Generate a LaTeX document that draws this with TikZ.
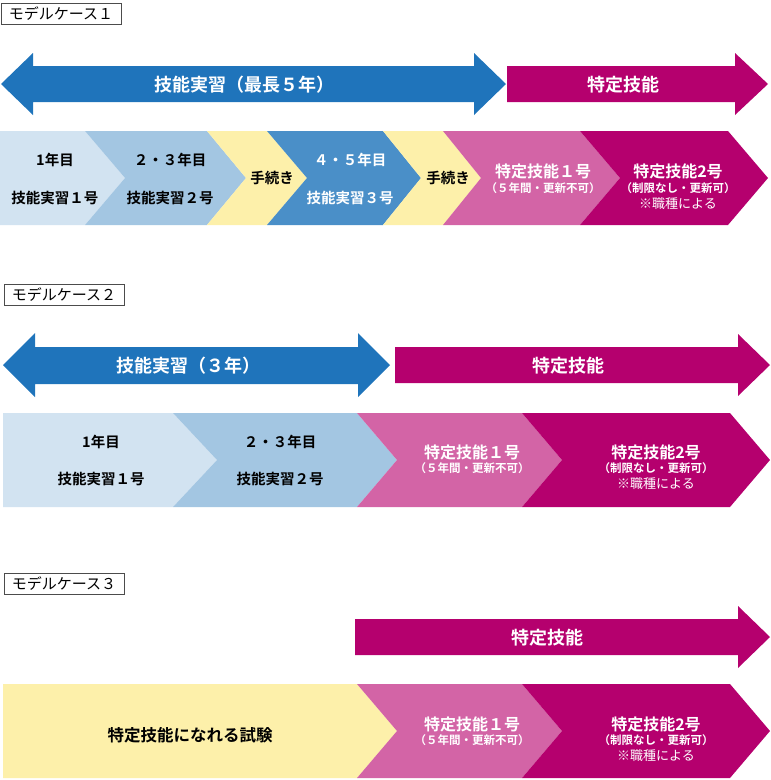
\documentclass[tikz,border=0pt]{standalone}
\usepackage{fontspec}
\setmainfont{Noto Sans CJK JP}[BoldFont={Noto Sans CJK JP Bold}]
\usepackage{tikz}
\usetikzlibrary{calc}
\definecolor{kblue}{RGB}{31,116,187}
\definecolor{kmag}{RGB}{181,0,110}
\definecolor{klight}{RGB}{210,227,241}
\definecolor{kmid}{RGB}{163,198,226}
\definecolor{kdeep}{RGB}{74,143,200}
\definecolor{kyel}{RGB}{253,240,170}
\definecolor{kpink}{RGB}{211,100,166}
\tikzset{
    case-box/.style={
        draw=black!70, line width=.8pt, fill=white, inner sep=0pt,
        minimum width=120, minimum height=21, font=\fontsize{15}{17}\selectfont
    },
    arrow-txt/.style={
        text=white, font=\bfseries\fontsize{18}{20}\selectfont
    },
    step-txt/.style={
        font=\bfseries\fontsize{14.5}{17}\selectfont
    },
    title-txt/.style={
        text=white, font=\bfseries\fontsize{16}{18}\selectfont
    },
    note-txt/.style={
        text=white, font=\bfseries\fontsize{11.5}{13}\selectfont
    },
    kind-txt/.style={
        text=white, font=\fontsize{13}{15}\selectfont
    },
}

\begin{document}
\begin{tikzpicture}[x=1pt, y=-1pt]

        \useasboundingbox (0,0) rectangle (771,780);

        % MODEL CASE 1
        \node[case-box] (C1) at (61,13.5) {モデルケース１};

        \fill[kblue] (1,84) -- (33,53) -- (33,66) -- (474,66) -- (474,53)
            -- (506,84) -- (474,115) -- (474,102) -- (33,102) -- (33,115) -- cycle;
        \fill[kmag]  (507,66) -- (735,66) -- (735,53) -- (768,84)
            -- (735,115) -- (735,102) -- (507,102) -- cycle;
        \node[arrow-txt] (JT1) at (244,85) {技能実習（最長５年）};
        \node[arrow-txt] (TG1) at (623,85) {特定技能};

        \fill[klight] (0,131) -- (85,131) -- (125,178) -- (85,225) -- (0,225) -- cycle;
        \fill[kmid]   (85,131) -- (207,131) -- (246,178) -- (207,225) -- (85,225) -- (125,178) -- cycle;
        \fill[kyel]   (207,131) -- (267,131) -- (307,178) -- (267,225) -- (207,225) -- (246,178) -- cycle;
        \fill[kdeep]  (267,131) -- (383,131) -- (421,178) -- (383,225) -- (267,225) -- (307,178) -- cycle;
        \fill[kyel]   (383,131) -- (443,131) -- (481,178) -- (443,225) -- (383,225) -- (421,178) -- cycle;
        \fill[kpink]  (443,131) -- (580,131) -- (620,178) -- (580,225) -- (443,225) -- (481,178) -- cycle;
        \fill[kmag]   (580,131) -- (728,131) -- (768,178) -- (728,225) -- (580,225) -- (620,178) -- cycle;

        \node[step-txt]            (Y1a) at (55,160)  {1年目};
        \node[step-txt]            (S1a) at (55,198)  {技能実習１号};
        \node[step-txt]            (Y2a) at (170,160) {２・３年目};
        \node[step-txt]            (S2a) at (170,198) {技能実習２号};
        \node[step-txt]            (P1a) at (272,178) {手続き};
        \node[step-txt,text=white] (Y3a) at (350,160) {４・５年目};
        \node[step-txt,text=white] (S3a) at (350,198) {技能実習３号};
        \node[step-txt]            (P2a) at (448,178) {手続き};
        \node[title-txt] (T1a) at (543,171) {特定技能１号};
        \node[note-txt]  (N1a) at (543,188) {（５年間・更新不可）};
        \node[title-txt] (T2a) at (678,171) {特定技能2号};
        \node[note-txt]  (N2a) at (678,188) {（制限なし・更新可）};
        \node[kind-txt]  (K2a) at (678,204) {※職種による};

        % MODEL CASE 2
        \node[case-box] (C2) at (64,295) {モデルケース２};

        \fill[kblue] (3,365) -- (35,333) -- (35,347) -- (358,347) -- (358,333)
            -- (390,365) -- (358,397) -- (358,384) -- (35,384) -- (35,397) -- cycle;
        \fill[kmag]  (395,347) -- (738,347) -- (738,334) -- (770,365)
            -- (738,396) -- (738,383) -- (395,383) -- cycle;
        \node[arrow-txt] (JT2) at (188,366) {技能実習（３年）};
        \node[arrow-txt] (TG2) at (568,366) {特定技能};

        \fill[klight] (3,413) -- (173,413) -- (217,460) -- (173,507) -- (3,507) -- cycle;
        \fill[kmid]   (173,413) -- (357,413) -- (397,460) -- (357,507) -- (173,507) -- (217,460) -- cycle;
        \fill[kpink]  (357,413) -- (522,413) -- (562,460) -- (522,507) -- (357,507) -- (397,460) -- cycle;
        \fill[kmag]   (522,413) -- (730,413) -- (770,460) -- (730,507) -- (522,507) -- (562,460) -- cycle;

        \node[step-txt]  (Y1b) at (101,442) {1年目};
        \node[step-txt]  (S1b) at (101,479) {技能実習１号};
        \node[step-txt]  (Y2b) at (280,442) {２・３年目};
        \node[step-txt]  (S2b) at (280,479) {技能実習２号};
        \node[title-txt] (T1b) at (472,452) {特定技能１号};
        \node[note-txt]  (N1b) at (472,468) {（５年間・更新不可）};
        \node[title-txt] (T2b) at (656,452) {特定技能2号};
        \node[note-txt]  (N2b) at (656,468) {（制限なし・更新可）};
        \node[kind-txt]  (K2b) at (656,484) {※職種による};

        % MODEL CASE 3
        \node[case-box] (C3) at (64,583.5) {モデルケース３};

        \fill[kmag]  (355,619) -- (738,619) -- (738,606) -- (770,637)
            -- (738,668) -- (738,655) -- (355,655) -- cycle;
        \node[arrow-txt] (TG3) at (547,638) {特定技能};

        \fill[kyel]  (3,684) -- (357,684) -- (397,731) -- (357,778) -- (3,778) -- cycle;
        \fill[kpink] (357,684) -- (522,684) -- (562,731) -- (522,778) -- (357,778) -- (397,731) -- cycle;
        \fill[kmag]  (522,684) -- (730,684) -- (770,731) -- (730,778) -- (522,778) -- (562,731) -- cycle;

        \node[step-txt,font=\bfseries\fontsize{16.5}{19}\selectfont] (EX) at (190,735) {特定技能になれる試験};
        \node[title-txt] (T1c) at (472,724) {特定技能１号};
        \node[note-txt]  (N1c) at (472,740) {（５年間・更新不可）};
        \node[title-txt] (T2c) at (656,724) {特定技能2号};
        \node[note-txt]  (N2c) at (656,740) {（制限なし・更新可）};
        \node[kind-txt]  (K2c) at (656,756) {※職種による};

    \end{tikzpicture}
\end{document}
